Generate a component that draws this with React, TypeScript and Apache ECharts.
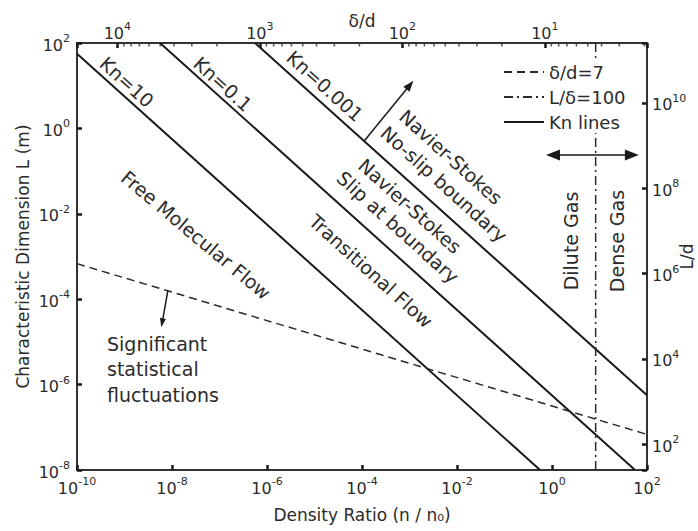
import React, { useEffect, useRef } from 'react';
import * as echarts from 'echarts';

const FONT = 'DejaVu Sans';
const INK = '#2b2b2b';

// Knudsen-number lines: endpoints [density, length]
const knNames = ['Kn=10', 'Kn=0.1', 'Kn=0.001'];
const knDensity = [[1e-10, 0.56], [5.6e-9, 56], [5.6e-7, 100]];
const knLength = [[56, 1e-8], [100, 1e-8], [100, 5.6e-7]];

// δ/d = 7 dashed line
const fluctDensity = [1e-10, 100];
const fluctLength = [6.8e-4, 6.8e-8];

// L/δ = 100 dash-dot vertical line
const denseDensity = [8.3, 8.3];
const denseLength = [100, 1e-8];

// arrows [start, end]
const nsArrowDensity = [1.1e-4, 1.02e-3];
const nsArrowLength = [0.5, 10.4];
const fluctArrowDensity = [8.2e-9, 6.2e-9];
const fluctArrowLength = [1.6e-4, 2.8e-5];
const gasArrowDensity = [1.05, 48];
const gasArrowLength = [0.238, 0.238];

// axes
const densityRange = [1e-10, 1e2];
const lengthRange = [1e-8, 1e2];
const topAxisExp = [0.283, 4.283]; // δ/d exponents at right / left edge
const rightAxisExp = [1.4, 11.4]; // L/d exponents at bottom / top edge
const topMinorMultipliers = [2, 3, 4, 5, 6, 7, 8, 9];
const topMinorDecades = [1, 10, 100, 1000];

const legendNames = ['δ/d=7', 'L/δ=100', 'Kn lines'];

const rich = {
  b: { fontSize: 16, fontFamily: FONT, color: INK, lineHeight: 20, verticalAlign: 'bottom' },
  s: { fontSize: 11, fontFamily: FONT, color: INK, lineHeight: 11, verticalAlign: 'top' },
};
const supLabel = (exp: number) => `{b|10}{s|${exp}}`;
const logLabel = (v: number) => {
  const e = Math.log10(v);
  const r = Math.round(e);
  if (Math.abs(e - r) > 1e-6) return '';
  return supLabel(r);
};

const axisLine = { show: true, lineStyle: { color: '#333', width: 2 } };
const axisTick = { show: true, inside: true, length: 5, lineStyle: { color: '#1a1a1a', width: 2.5 } };
const nameStyle = { fontFamily: FONT, fontSize: 17, color: INK };

const pairs = (xs: number[], ys: number[]) => xs.map((x, i) => [x, ys[i]]);

const txt = (text: string, x: number, y: number, rotDeg: number, extra: any = {}) => ({
  type: 'text',
  x,
  y,
  rotation: (rotDeg * Math.PI) / 180,
  silent: true,
  z: 10,
  style: {
    text,
    fill: INK,
    fontFamily: FONT,
    fontSize: 19,
    align: 'center',
    verticalAlign: 'middle',
    ...extra,
  },
});

export default function App() {
  const ref = useRef<HTMLDivElement>(null);
  useEffect(() => {
    if (!ref.current) return;
    const chart = echarts.init(ref.current, null, { renderer: 'svg' });

    const topMinor: number[] = [];
    const tMin = Math.pow(10, topAxisExp[0]);
    const tMax = Math.pow(10, topAxisExp[1]);
    topMinorDecades.forEach((d) =>
      topMinorMultipliers.forEach((m) => {
        const v = m * d;
        if (v > tMin && v < tMax) topMinor.push(v);
      })
    );

    const arrowLine = (xs: number[], ys: number[], symbol: string[], size: number[]) => ({
      silent: true,
      symbol,
      symbolSize: size,
      label: { show: false },
      lineStyle: { type: 'solid', color: '#1a1a1a', width: 1.5 },
      emphasis: { disabled: true },
      data: [[{ coord: [xs[0], ys[0]] }, { coord: [xs[1], ys[1]] }]],
    });

    const option: any = {
      animation: false,
      backgroundColor: '#fff',
      grid: { left: 77, right: 51, top: 43, bottom: 61, containLabel: false, outerBoundsMode: 'none' },
      xAxis: [
        {
          type: 'log',
          position: 'bottom',
          min: densityRange[0],
          max: densityRange[1],
          interval: 2,
          axisLine,
          axisTick,
          splitLine: { show: false },
          axisLabel: { formatter: logLabel, rich, margin: 6 },
          name: 'Density Ratio (n / n₀)',
          nameLocation: 'middle',
          nameGap: 36,
          nameMoveOverlap: false,
          nameTextStyle: nameStyle,
        },
        {
          type: 'log',
          position: 'top',
          inverse: true,
          min: tMin,
          max: tMax,
          axisLine,
          axisTick,
          splitLine: { show: false },
          axisLabel: { formatter: logLabel, rich, margin: 2 },
          name: 'δ/d',
          nameLocation: 'middle',
          nameGap: 14,
          nameMoveOverlap: false,
          nameTextStyle: nameStyle,
        },
      ],
      yAxis: [
        {
          type: 'log',
          position: 'left',
          min: lengthRange[0],
          max: lengthRange[1],
          interval: 2,
          axisLine,
          axisTick,
          splitLine: { show: false },
          axisLabel: { formatter: logLabel, rich, margin: 7 },
          name: 'Characteristic Dimension L (m)',
          nameLocation: 'middle',
          nameGap: 46,
          nameMoveOverlap: false,
          nameTextStyle: nameStyle,
        },
        {
          type: 'value',
          position: 'right',
          min: rightAxisExp[0],
          max: rightAxisExp[1],
          splitNumber: 5,
          axisLine,
          axisTick,
          splitLine: { show: false },
          axisLabel: {
            formatter: (v: number) => {
              const r = Math.round(v);
              if (Math.abs(v - r) > 1e-6 || r % 2 !== 0) return '';
              return supLabel(r);
            },
            rich,
            margin: 5,
          },
          name: 'L/d',
          nameLocation: 'middle',
          nameGap: 31,
          nameMoveOverlap: false,
          nameTextStyle: nameStyle,
        },
      ],
      legend: {
        data: legendNames,
        orient: 'vertical',
        left: 499,
        top: 61,
        itemWidth: 40,
        itemHeight: 12,
        itemGap: 7,
        padding: [2, 4, 2, 4],
        backgroundColor: '#fff',
        selectedMode: false,
        itemStyle: { color: 'rgba(0,0,0,0)', borderColor: 'rgba(0,0,0,0)', borderWidth: 0 },
        textStyle: { fontFamily: FONT, fontSize: 18, color: INK },
      },
      series: [
        ...knNames.map((nm, i) => ({
          type: 'line',
          name: 'Kn lines',
          id: nm,
          xAxisIndex: 0,
          yAxisIndex: 0,
          data: pairs(knDensity[i], knLength[i]),
          symbol: 'none',
          color: '#1a1a1a',
          lineStyle: { color: '#1a1a1a', width: 2 },
          silent: true,
          z: 3,
          markLine:
            i === 2
              ? arrowLine(nsArrowDensity, nsArrowLength, ['none', 'triangle'], [8, 11])
              : undefined,
        })),
        {
          type: 'line',
          name: 'δ/d=7',
          xAxisIndex: 0,
          yAxisIndex: 0,
          data: pairs(fluctDensity, fluctLength),
          symbol: 'none',
          color: '#2a2a2a',
          lineStyle: { color: '#2a2a2a', width: 1.5, type: [8, 5] },
          silent: true,
          markLine: arrowLine(fluctArrowDensity, fluctArrowLength, ['none', 'triangle'], [6, 9]),
        },
        {
          type: 'line',
          name: 'L/δ=100',
          xAxisIndex: 0,
          yAxisIndex: 0,
          data: pairs(denseDensity, denseLength),
          symbol: 'none',
          color: '#2a2a2a',
          lineStyle: { color: '#2a2a2a', width: 1.5, type: [9, 4, 2, 4] },
          silent: true,
          markLine: arrowLine(gasArrowDensity, gasArrowLength, ['triangle', 'triangle'], [11, 14]),
        },
        {
          type: 'custom',
          name: 'minor',
          xAxisIndex: 1,
          yAxisIndex: 0,
          silent: true,
          clip: false,
          data: topMinor.map((v) => [v, lengthRange[1]]),
          renderItem: (params: any, api: any) => {
            const p = api.coord([api.value(0), api.value(1)]);
            return {
              type: 'line',
              shape: { x1: p[0], y1: p[1] + 1, x2: p[0], y2: p[1] + 3.5 },
              style: { stroke: '#555', lineWidth: 1.5 },
            };
          },
        },
      ],
      graphic: [
        txt('Kn=10', 127, 82, -42),
        txt('Kn=0.1', 223, 84, -42),
        txt('Kn=0.001', 325, 86, -42),
        txt('Navier-Stokes', 451, 157, -42),
        txt('No-slip boundary', 444, 184, -42),
        txt('Navier-Stokes', 410, 206, -42),
        txt('Slip at boundary', 398, 227, -42),
        txt('Transitional Flow', 371, 271, -42),
        txt('Free Molecular Flow', 196, 235, -40),
        txt('Dilute Gas', 571, 241, 90),
        txt('Dense Gas', 617, 241, 90),
        txt('Significant\nstatistical\nfluctuations', 107, 369, 0, { align: 'left', lineHeight: 25.5 }),
      ],
    };
    chart.setOption(option);
    return () => chart.dispose();
  }, []);
  return (
    <div
      ref={ref}
      style={{ position: 'absolute', left: 0, top: 0, width: 698, height: 531, background: '#fff' }}
    />
  );
}
